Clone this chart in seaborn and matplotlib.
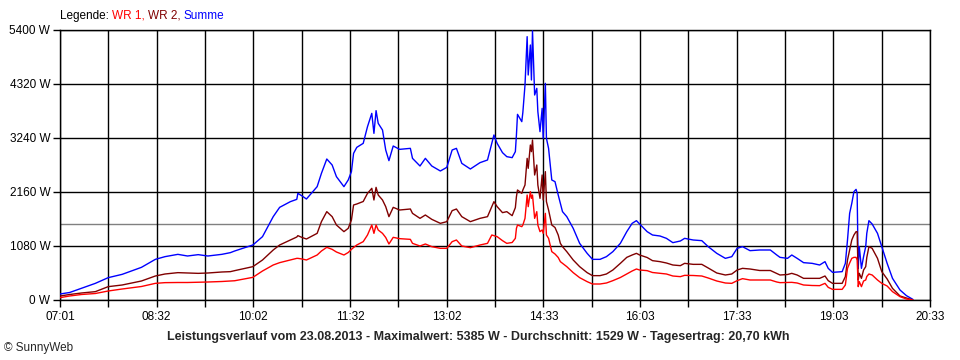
import numpy as np
import pandas as pd
import matplotlib
matplotlib.use("Agg")
import matplotlib.pyplot as plt
import seaborn as sns

zeit = ["07:01", "07:10", "07:21", "07:34", "07:46", "07:59", "08:17", "08:30", "08:39", "08:51",
        "09:00", "09:10", "09:19", "09:32", "09:40", "09:44", "10:01", "10:10", "10:20", "10:26",
        "10:36", "10:42", "10:43", "10:47", "10:51", "11:01", "11:05", "11:10", "11:15", "11:19",
        "11:26", "11:30", "11:33", "11:35", "11:38", "11:44", "11:48", "11:52", "11:54", "11:56",
        "11:58", "12:02", "12:05", "12:08", "12:12", "12:18", "12:28", "12:30", "12:37", "12:42",
        "12:48", "12:56", "13:02", "13:07", "13:11", "13:16", "13:24", "13:33", "13:40", "13:44",
        "13:46", "13:49", "13:54", "13:58", "14:03", "14:06", "14:07", "14:08", "14:12", "14:13",
        "14:15", "14:17", "14:18", "14:20", "14:21", "14:22", "14:24", "14:26", "14:27", "14:29",
        "14:31", "14:32", "14:34", "14:35", "14:37", "14:40", "14:43", "14:46", "14:48", "14:50",
        "14:54", "15:00", "15:06", "15:13", "15:18", "15:25", "15:31", "15:37", "15:44", "15:50",
        "15:55", "15:59", "16:02", "16:09", "16:14", "16:21", "16:27", "16:33", "16:40", "16:44",
        "16:52", "17:00", "17:06", "17:14", "17:22", "17:28", "17:33", "17:38", "17:45", "17:54",
        "18:04", "18:10", "18:13", "18:20", "18:24", "18:29", "18:35", "18:43", "18:50", "18:55",
        "18:58", "19:02", "19:11", "19:14", "19:16", "19:18", "19:20", "19:22", "19:24", "19:25",
        "19:26", "19:27", "19:29", "19:31", "19:33", "19:34", "19:36", "19:39", "19:44", "19:48",
        "19:53", "19:58", "20:05", "20:11", "20:17"]

summe = [120, 150, 233, 333, 447, 513, 653, 813, 867, 913,
         880, 907, 880, 913, 947, 980, 1100, 1267, 1667, 1853,
         1967, 2013, 2133, 2080, 2020, 2267, 2533, 2820, 2700, 2467,
         2267, 2400, 2567, 2933, 3053, 3133, 3467, 3733, 3333, 3787,
         3533, 3400, 3000, 2787, 3080, 3013, 3033, 2833, 2680, 2833,
         2680, 2580, 2653, 3000, 3033, 2733, 2620, 2747, 2800, 3133,
         3300, 3133, 2947, 2867, 2847, 2967, 3300, 3713, 3567, 3753,
         4300, 5267, 4500, 5100, 4400, 5385, 4100, 4233, 3767, 3367,
         3833, 3233, 4333, 3233, 3033, 2400, 2367, 2100, 1933, 1767,
         1667, 1433, 1133, 933, 813, 813, 867, 967, 1133, 1367,
         1533, 1587, 1520, 1367, 1300, 1280, 1233, 1147, 1180, 1233,
         1200, 1187, 1067, 933, 833, 867, 1033, 1067, 987, 1000,
         1000, 900, 853, 833, 900, 833, 747, 733, 700, 767,
         633, 553, 567, 733, 1200, 1733, 1933, 2167, 2213, 2133,
         633, 1067, 633, 867, 1067, 1333, 1587, 1520, 1333, 1067,
         733, 433, 200, 87, 13]

wr2 = [80, 110, 140, 167, 267, 300, 380, 480, 520, 547,
       540, 533, 540, 560, 567, 587, 667, 800, 1000, 1100,
       1200, 1260, 1287, 1250, 1220, 1333, 1567, 1767, 1667, 1500,
       1367, 1433, 1600, 1900, 1920, 1970, 2133, 2233, 2000, 2253,
       2100, 2000, 1867, 1667, 1853, 1800, 1820, 1733, 1633, 1700,
       1613, 1533, 1567, 1787, 1820, 1667, 1567, 1633, 1667, 1867,
       1967, 1867, 1747, 1767, 1687, 1847, 2067, 2200, 2133, 2200,
       2300, 2833, 2633, 3100, 2967, 3200, 2500, 2700, 2300, 2033,
       2500, 2000, 2567, 1967, 1800, 1500, 1450, 1300, 1133, 1067,
       967, 800, 667, 547, 487, 487, 520, 600, 733, 853,
       900, 933, 900, 850, 787, 767, 740, 700, 687, 733,
       713, 713, 640, 540, 500, 520, 600, 633, 620, 590,
       590, 530, 500, 510, 533, 500, 433, 433, 433, 480,
       387, 333, 333, 467, 800, 1000, 1200, 1300, 1367, 1367,
       400, 533, 433, 600, 667, 850, 1067, 1033, 833, 567,
       420, 233, 80, 40, 0]

wr1 = [47, 80, 110, 130, 180, 220, 270, 333, 347, 350,
       350, 355, 360, 370, 380, 385, 453, 580, 700, 747,
       800, 833, 833, 820, 800, 900, 980, 1053, 1013, 960,
       900, 950, 1013, 1050, 1100, 1167, 1300, 1500, 1333, 1500,
       1400, 1333, 1250, 1120, 1253, 1227, 1213, 1133, 1080, 1120,
       1067, 1033, 1033, 1167, 1200, 1080, 1047, 1100, 1133, 1300,
       1287, 1267, 1187, 1133, 1150, 1233, 1433, 1500, 1467, 1500,
       1633, 2100, 1867, 2167, 2033, 2100, 1633, 1767, 1500, 1367,
       1400, 1333, 1733, 1300, 1233, 967, 920, 850, 767, 733,
       667, 547, 447, 367, 320, 320, 340, 387, 450, 520,
       580, 620, 600, 587, 550, 533, 520, 480, 467, 493,
       490, 480, 440, 380, 340, 333, 387, 427, 400, 400,
       400, 360, 347, 350, 353, 340, 300, 290, 287, 333,
       253, 213, 213, 300, 633, 740, 833, 853, 853, 800,
       267, 367, 267, 380, 400, 470, 520, 500, 400, 333,
       280, 167, 67, 20, 0]

x_labels = ["07:01", "08:32", "10:02", "11:32", "13:02", "14:33", "16:03", "17:33", "19:03", "20:33"]
y_ticks = [0, 1080, 2160, 3240, 4320, 5400]
durchschnitt = 1529

farben = {"Summe": "#0000FF", "WR 2": "#800000", "WR 1": "#FF0000"}

sns.set_style("white")
plt.rcParams['font.family'] = ['Liberation Sans', 'DejaVu Sans']
plt.rcParams['font.size'] = 8.5


def to_min(s):
    return int(s[:2]) * 60 + int(s[3:])


minuten = [to_min(z) for z in zeit]
df = pd.DataFrame({"zeit": minuten, "Summe": summe, "WR 2": wr2, "WR 1": wr1})
df_long = df.melt(id_vars="zeit", var_name="serie", value_name="leistung")

fig = plt.figure(figsize=(9.6, 3.6), dpi=100)
ax = fig.add_axes([60 / 960, 60 / 360, 870 / 960, 270 / 360])

x0, x1 = to_min(x_labels[0]), to_min(x_labels[-1])
ticks = np.linspace(x0, x1, 2 * len(x_labels) - 1)

# Gitter
for t in ticks:
    ax.axvline(t, color="black", lw=1.0, zorder=1)
for v in y_ticks:
    ax.axhline(v, color="black", lw=1.0, zorder=1)
ax.axhline(durchschnitt, color="#808080", lw=1.0, zorder=0.5)

sns.lineplot(data=df_long, x="zeit", y="leistung", hue="serie", palette=farben,
             hue_order=["Summe", "WR 2", "WR 1"], estimator=None, sort=False,
             linewidth=1.0, legend=False, ax=ax, zorder=3)

ax.set_xlim(x0, x1)
ax.set_ylim(0, 5400)
ax.set_xticks(ticks)
ax.set_xticklabels([x_labels[i // 2] if i % 2 == 0 else "" for i in range(len(ticks))])
ax.set_yticks(y_ticks)
ax.set_yticklabels([f"{v} W" for v in y_ticks])
ax.tick_params(axis="x", length=5, width=1, pad=3, colors="black", bottom=True)
ax.tick_params(axis="y", length=5, width=1, pad=2, colors="black", left=True)
ax.set_xlabel("")
ax.set_ylabel("")
for sp in ax.spines.values():
    sp.set_color("black")
    sp.set_linewidth(1.0)

# Legende oben
t = fig.text(60 / 960, 1 - 16 / 360, "Legende: ", color="black", va="center", ha="left")
for txt, col in [("WR 1, ", farben["WR 1"]), ("WR 2, ", farben["WR 2"]), ("Summe", farben["Summe"])]:
    t = ax.annotate(txt, xycoords=t, xy=(1, 0), va="bottom", ha="left", color=col,
                    annotation_clip=False)

fig.text(478 / 960, 1 - 337 / 360,
         "Leistungsverlauf vom 23.08.2013 - Maximalwert: 5385 W - Durchschnitt: 1529 W - Tagesertrag: 20,70 kWh",
         ha="center", va="center", fontweight="bold", fontsize=9)
fig.text(4 / 960, 1 - 348 / 360, "© SunnyWeb", ha="left", va="center", fontsize=8.5)

fig.savefig("out.png", dpi=100, facecolor="white")
